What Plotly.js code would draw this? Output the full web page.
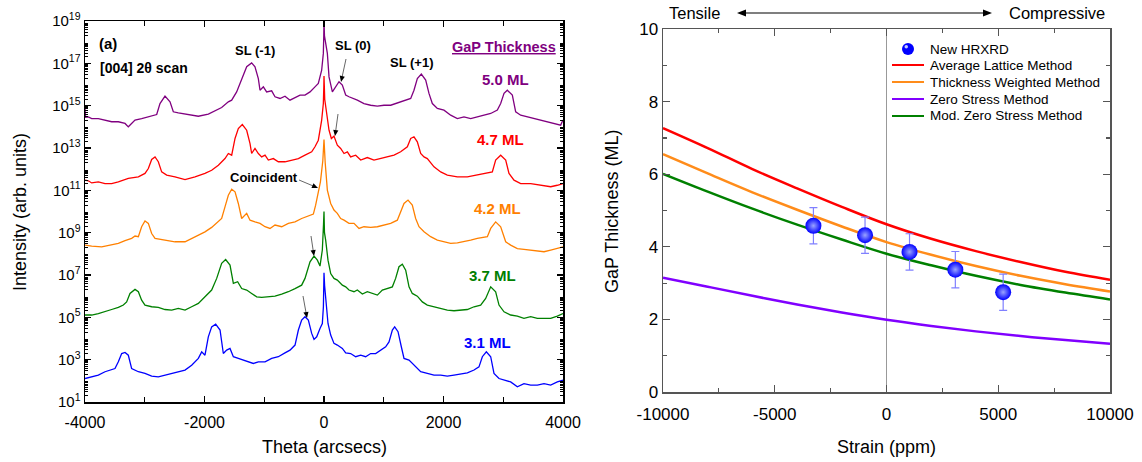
<!DOCTYPE html>
<html>
<head>
<meta charset="utf-8">
<script src="https://cdn.plot.ly/plotly-3.0.1.min.js"></script>
<style>html,body{margin:0;padding:0;background:#fff;}#chart{width:1142px;height:462px;}</style>
</head>
<body>
<div id="chart"></div>
<script>
// ---------- Panel (a): HRXRD scans, theta (arcsec) and log10 intensity ----------
const theta50 = [-4000,-3990,-3944,-3888,-3777,-3665,-3554,-3442,-3330,-3275,-3163,-3052,-2940,-2828,-2800,-2745,-2661,-2577,-2522,-2438,-2326,-2103,-1936,-1768,-1713,-1601,-1545,-1462,-1378,-1294,-1211,-1155,-1099,-1071,-1015,-960,-876,-820,-736,-653,-569,-485,-401,-318,-234,-151,-95,-39,-11,-4,0,8,56,84,140,195,251,307,363,418,502,558,669,781,893,1004,1116,1227,1339,1451,1506,1562,1629,1702,1757,1813,1897,2008,2120,2232,2343,2455,2566,2678,2790,2901,2957,3013,3068,3152,3208,3292,3403,3515,3626,3738,3850,3961,4000];
const logI50 = [14.9,14.45,14.47,14.39,14.39,14.32,14.24,14.24,14.16,14.0,14.32,14.39,14.47,14.55,14.58,15.1,15.45,15.18,14.71,14.66,14.6,14.5,14.6,14.82,14.91,15.18,15.26,15.65,16.28,16.84,17.02,16.84,16.28,15.73,15.89,15.65,15.7,15.42,15.34,15.45,15.26,15.39,15.5,15.5,15.65,15.89,16.05,16.68,17.47,18.3,19.0,18.3,17.47,16.36,15.65,15.89,16.13,15.97,15.5,15.42,15.34,15.26,15.1,15.02,14.98,15.02,15.02,15.13,15.26,15.34,15.73,16.28,16.49,16.21,15.58,15.1,14.87,14.79,14.55,14.39,14.47,14.39,14.47,14.55,14.63,14.79,15.1,15.58,15.73,15.5,14.71,14.55,14.47,14.39,14.32,14.24,14.16,14.08,14.32];

const theta47 = [-4000,-3944,-3888,-3777,-3665,-3554,-3442,-3275,-3107,-2996,-2940,-2884,-2828,-2773,-2717,-2633,-2494,-2326,-2159,-1992,-1880,-1768,-1657,-1601,-1545,-1489,-1434,-1367,-1294,-1238,-1211,-1155,-1099,-1043,-987,-932,-848,-764,-653,-541,-429,-318,-206,-151,-95,-39,-11,-3,0,12,45,84,123,167,223,279,335,391,446,530,614,725,837,948,1060,1172,1283,1395,1451,1506,1562,1618,1674,1729,1841,1953,2064,2232,2399,2566,2734,2817,2873,2957,3041,3096,3180,3292,3459,3626,3794,3905,4000];
const logI47 = [11.48,11.45,11.35,11.40,11.32,11.32,11.40,11.56,11.64,11.80,12.03,12.46,12.58,12.35,11.87,11.72,11.64,11.51,11.64,11.80,11.95,12.19,12.50,12.74,12.66,13.45,13.92,14.11,13.84,13.21,12.74,12.98,12.74,12.58,12.66,12.43,12.50,12.35,12.35,12.43,12.50,12.66,12.82,13.06,13.37,14.32,15.1,15.9,16.4,15.3,14.63,13.84,13.45,13.56,13.13,12.98,12.74,12.82,12.58,12.66,12.43,12.55,12.43,12.50,12.58,12.66,12.82,13.06,13.45,13.53,13.29,12.74,12.58,12.50,12.11,11.87,11.72,11.64,11.64,11.72,11.80,11.87,12.43,12.66,12.43,11.80,11.48,11.32,11.32,11.24,11.17,11.24,11.32];

const theta42 = [-4000,-3888,-3721,-3554,-3442,-3330,-3219,-3163,-3107,-3052,-2996,-2940,-2884,-2828,-2661,-2494,-2326,-2215,-2103,-1992,-1880,-1768,-1713,-1657,-1601,-1545,-1489,-1434,-1378,-1294,-1238,-1155,-1071,-987,-904,-820,-708,-597,-485,-374,-262,-178,-140,-95,-60,-20,0,20,56,112,167,223,279,335,418,502,586,669,781,893,1004,1116,1227,1283,1339,1406,1478,1534,1590,1674,1785,1897,2008,2120,2232,2343,2455,2566,2678,2734,2790,2873,2957,3041,3124,3236,3347,3459,3571,3682,3794,3905,4000];
const logI42 = [8.41,8.36,8.33,8.41,8.49,8.62,8.73,8.84,8.81,9.28,9.55,9.44,8.96,8.73,8.65,8.57,8.57,8.73,8.88,9.04,9.25,9.56,9.67,10.22,10.77,11.05,10.93,10.38,9.67,9.91,9.59,9.51,9.44,9.28,9.20,9.36,9.28,9.44,9.51,9.67,9.78,9.88,10.3,11.0,11.4,12.4,13.4,12.3,11.01,10.38,10.07,9.91,9.67,9.59,9.44,9.44,9.20,9.28,9.25,9.28,9.36,9.44,9.59,9.99,10.38,10.54,10.30,9.67,9.28,9.04,8.81,8.65,8.57,8.49,8.52,8.57,8.65,8.73,8.77,8.81,9.20,9.51,9.28,8.57,8.41,8.25,8.21,8.18,8.14,8.10,8.18,8.25,8.33];

const theta37 = [-4000,-3888,-3777,-3665,-3554,-3442,-3358,-3303,-3247,-3163,-3107,-3052,-2996,-2884,-2773,-2661,-2549,-2438,-2326,-2215,-2103,-1992,-1880,-1796,-1713,-1646,-1573,-1517,-1445,-1378,-1294,-1211,-1127,-1043,-932,-820,-708,-597,-485,-374,-318,-234,-167,-111,-67,-28,-8,0,8,28,67,112,167,223,307,363,418,502,558,642,725,809,893,976,1060,1144,1199,1255,1311,1367,1423,1478,1562,1646,1729,1841,1953,2064,2176,2287,2399,2511,2622,2706,2790,2873,2929,3013,3124,3236,3347,3459,3571,3682,3794,3905,4000];
const logI37 = [5.11,5.11,5.18,5.26,5.37,5.47,5.58,5.73,6.13,6.32,6.21,5.81,5.58,5.50,5.47,5.37,5.34,5.42,5.34,5.50,5.66,5.97,6.29,6.84,7.55,7.73,7.47,6.60,6.68,6.36,6.29,6.13,5.97,5.94,5.97,6.00,6.10,6.21,6.36,6.52,6.84,7.62,7.89,7.70,7.42,8.18,9.4,10.0,9.0,8.65,7.70,7.07,6.84,6.76,6.52,6.44,6.29,6.21,6.29,6.10,6.21,6.13,6.05,6.29,6.36,6.44,6.84,7.39,7.51,7.23,6.44,6.13,6.00,5.73,5.58,5.50,5.42,5.34,5.31,5.34,5.37,5.50,5.58,5.89,6.44,6.21,5.58,5.26,5.11,5.06,4.95,5.03,4.95,4.95,4.95,5.06,5.18];

const theta31 = [-4000,-3888,-3777,-3665,-3554,-3498,-3442,-3386,-3330,-3275,-3219,-3107,-2996,-2884,-2773,-2661,-2549,-2438,-2326,-2215,-2103,-2047,-1992,-1936,-1880,-1813,-1740,-1685,-1629,-1573,-1517,-1434,-1350,-1266,-1183,-1099,-987,-876,-764,-653,-569,-485,-429,-374,-318,-262,-206,-167,-122,-67,-28,-10,0,10,28,67,112,167,223,307,363,446,530,614,697,781,865,948,1032,1088,1144,1183,1239,1294,1339,1423,1506,1618,1729,1841,1953,2064,2176,2287,2399,2511,2594,2650,2717,2790,2845,2929,3013,3124,3236,3347,3459,3571,3682,3794,3905,4000];
const logI31 = [2.11,2.19,2.27,2.43,2.51,2.58,2.90,3.29,3.34,3.21,2.58,2.43,2.35,2.22,2.19,2.27,2.35,2.43,2.51,2.74,3.06,3.37,3.21,4.08,4.55,4.68,4.40,3.29,3.45,3.53,3.14,3.06,2.98,2.90,2.82,2.90,2.90,3.06,3.14,3.32,3.45,3.69,4.40,4.87,5.03,4.87,4.24,3.96,4.08,4.47,4.71,5.5,7.1,6.5,5.81,4.71,4.16,3.77,3.69,3.53,3.32,3.29,3.14,3.21,3.14,3.29,3.29,3.45,3.61,3.84,4.40,4.55,4.32,3.61,3.06,2.98,2.74,2.43,2.35,2.27,2.27,2.22,2.27,2.32,2.38,2.51,2.66,3.14,3.37,3.14,2.35,2.11,2.03,1.95,1.72,1.87,1.80,1.80,1.87,1.80,1.95,2.03];

const xTickVals = [-4000,-2000,0,2000,4000];
const xTickText = ['-4000','-2000','0','2000','4000'];
const yLabelExps = [1,3,5,7,9,11,13,15,17,19];
const yPlainExps = [2,4,6,8,10,12,14,16,18];

// ---------- Panel (b): GaP thickness vs strain ----------
const strain = [-10000,-8000,-6000,-4000,-2000,0,2000,4000,6000,8000,10000];
const avgLattice = [7.27,6.72,6.14,5.61,5.10,4.62,4.22,3.88,3.58,3.31,3.09];
const thickWeighted = [6.55,6.02,5.50,5.02,4.56,4.13,3.78,3.47,3.20,2.97,2.77];
const zeroStress = [3.15,2.90,2.65,2.41,2.19,1.99,1.82,1.67,1.54,1.43,1.33];
const modZeroStress = [6.01,5.52,5.05,4.61,4.20,3.81,3.49,3.20,2.95,2.74,2.55];
const hrxrdStrain = [-3270,-960,1030,3080,5220];
const hrxrdThick = [4.58,4.32,3.86,3.37,2.75];
const hrxrdErr = [0.5,0.5,0.5,0.5,0.5];
const x2TickVals = [-10000,-5000,0,5000,10000];
const x2TickText = ['-10000','-5000','0','5000','10000'];
const legendNames = ['New HRXRD','Average Lattice Method','Thickness Weighted Method','Zero Stress Method','Mod. Zero Stress Method'];
const lineColors = ['#ff0000','#ff8c1a','#8000ff','#008000'];

const FONT = 'Arial, "Liberation Sans", sans-serif';
const W = 1142, H = 462;
const px = v => v / W, py = v => 1 - v / H;
const pow10 = a => a.map(v => Math.pow(10, v));

const xrd = [
  [theta31, logI31, '#0000ff'],
  [theta37, logI37, '#008000'],
  [theta42, logI42, '#ff8000'],
  [theta47, logI47, '#ff0000'],
  [theta50, logI50, '#800080']
];
const traces = xrd.map(([t, l, c]) => ({
  x: t, y: pow10(l), type: 'scatter', mode: 'lines', xaxis: 'x', yaxis: 'y',
  line: {color: c, width: 1.3}, showlegend: false, hoverinfo: 'skip'
}));
[avgLattice, thickWeighted, zeroStress, modZeroStress].forEach((v, i) => traces.push({
  x: strain, y: v, type: 'scatter', mode: 'lines', xaxis: 'x2', yaxis: 'y2', showlegend: false,
  line: {color: lineColors[i], width: 2.5, shape: 'spline'}
}));
traces.push({
  x: hrxrdStrain, y: hrxrdThick, type: 'scatter', mode: 'markers', xaxis: 'x2', yaxis: 'y2', showlegend: false,
  marker: {size: 16, color: '#0000ff', gradient: {type: 'radial', color: '#9aa4ff'}, line: {width: 0}},
  error_y: {type: 'data', array: hrxrdErr, visible: true, color: '#8080ff', thickness: 1.2, width: 4}
});

// log-axis tick positions
const yMinor = [];
for (let e = 1; e < 19; e++) for (let m = 2; m <= 9; m++) yMinor.push(m * Math.pow(10, e));

const ann = [];
const shapes = [];
function txt(t, x, y, size, color, opts) {
  ann.push(Object.assign({text: t, x: px(x), y: py(y), xref: 'paper', yref: 'paper',
    xanchor: 'center', yanchor: 'middle', showarrow: false,
    font: {family: FONT, size: size, color: color || '#000'}}, opts || {}));
}
function tri(x1, y1, ux, uy, len, hw, color) {
  const bx = x1 - ux * len, by = y1 - uy * len, qx = -uy * hw, qy = ux * hw;
  shapes.push({type: 'path', xref: 'paper', yref: 'paper', fillcolor: color, line: {width: 0},
    path: `M${px(x1)},${py(y1)} L${px(bx + qx)},${py(by + qy)} L${px(bx - qx)},${py(by - qy)} Z`});
}
function arrow(x0, y0, x1, y1, o) {
  o = Object.assign({len: 6, hw: 2.6, lc: '#555', lw: 0.9, hc: '#000', both: false}, o || {});
  const d = Math.hypot(x1 - x0, y1 - y0), ux = (x1 - x0) / d, uy = (y1 - y0) / d;
  const sx = o.both ? x0 + ux * o.len * 0.8 : x0, sy = o.both ? y0 + uy * o.len * 0.8 : y0;
  shapes.push({type: 'line', xref: 'paper', yref: 'paper', x0: px(sx), y0: py(sy),
    x1: px(x1 - ux * o.len * 0.8), y1: py(y1 - uy * o.len * 0.8), line: {color: o.lc, width: o.lw}});
  tri(x1, y1, ux, uy, o.len, o.hw, o.hc);
  if (o.both) tri(x0, y0, -ux, -uy, o.len, o.hw, o.hc);
}
// panel (a) labels
txt('<b>(a)</b>', 108, 43, 15);
txt('<b>[004] 2θ scan</b>', 98, 68, 14, '#000', {xanchor: 'left'});
txt('<b>SL (-1)</b>', 255, 51, 13);
txt('<b>SL (0)</b>', 353, 46, 13);
txt('<b>SL (+1)</b>', 411, 63, 13);
txt('<b>Coincident</b>', 264, 177, 13);
ann.push({text: '<b>GaP Thickness</b>', x: px(504), y: py(47), xref: 'paper', yref: 'paper', showarrow: false,
  xanchor: 'center', yanchor: 'middle',
  font: {family: FONT, size: 14.5, color: '#800080', lineposition: 'under'}});
txt('<b>5.0 ML</b>', 505, 79, 15, '#800080');
txt('<b>4.7 ML</b>', 500, 139, 15, '#ff0000');
txt('<b>4.2 ML</b>', 497, 208, 15, '#ff8000');
txt('<b>3.7 ML</b>', 492, 275, 15, '#008000');
txt('<b>3.1 ML</b>', 487, 342, 15, '#0000ff');
arrow(346, 59, 341, 82);
arrow(338, 114, 335, 136);
arrow(299, 180, 318, 188);
arrow(311, 236, 314, 256);
arrow(303, 296, 307, 318);
// axis titles
txt('Intensity (arb. units)', 20, 212, 18, '#000', {textangle: -90});
txt('Theta (arcsecs)', 324, 447, 18);
txt('GaP Thickness (ML)', 612, 212, 18, '#000', {textangle: -90});
txt('Strain (ppm)', 886, 447, 18);
// panel (b) top
txt('Tensile', 694, 13, 16.5);
txt('Compressive', 1057, 13, 16.5);
arrow(737, 13, 992, 13, {both: true, len: 9, hw: 3.5, lc: '#000', lw: 1.2, hc: '#000'});
// manual legend of panel (b)
const legY = [49, 65, 82, 99, 116];
shapes.push({type: 'circle', xref: 'paper', yref: 'paper', x0: px(902), x1: px(914), y0: py(55), y1: py(43),
  fillcolor: '#0000ff', line: {width: 0}});
shapes.push({type: 'circle', xref: 'paper', yref: 'paper', x0: px(904.5), x1: px(908), y0: py(48.5), y1: py(45),
  fillcolor: '#c8ccff', line: {width: 0}});
lineColors.forEach((c, i) => shapes.push({type: 'line', xref: 'paper', yref: 'paper',
  x0: px(892), x1: px(924), y0: py(legY[i + 1]), y1: py(legY[i + 1]), line: {color: c, width: 2}}));
legendNames.forEach((n, i) => txt(n, 928, legY[i], 13.5, '#000', {xanchor: 'left'}));
// zero-strain guide line
shapes.push({type: 'line', xref: 'x2', yref: 'y2', x0: 0, x1: 0, y0: 0, y1: 10, layer: 'below',
  line: {color: '#999', width: 1}});

const axBase = {showgrid: false, zeroline: false, showline: true, mirror: 'ticks', ticks: 'inside',
  tickfont: {family: FONT, size: 16, color: '#000'}, tickcolor: '#000', ticklen: 6, tickwidth: 1.2};

const layout = {
  width: W, height: H, margin: {l: 0, r: 0, t: 0, b: 0}, paper_bgcolor: '#fff', plot_bgcolor: '#fff',
  font: {family: FONT, color: '#000'}, showlegend: false,
  xaxis: Object.assign({}, axBase, {domain: [px(85), px(563)], range: [-4000, 4000], anchor: 'y',
    tickmode: 'array', tickvals: xTickVals, ticktext: xTickText, linecolor: '#000', linewidth: 1.5,
    ticklabelstandoff: 5,
    minor: {tickmode: 'array', tickvals: [-3000, -1000, 1000, 3000], ticks: 'inside', ticklen: 5, tickcolor: '#000', tickwidth: 1.2}}),
  yaxis: Object.assign({}, axBase, {type: 'log', domain: [1 - 402 / H, 1 - 21 / H], range: [1, 19], anchor: 'x',
    tickmode: 'array', tickvals: yLabelExps.map(e => Math.pow(10, e)),
    ticktext: yLabelExps.map(e => '10<sup>' + e + '</sup>'), linecolor: '#000', linewidth: 1.5, ticklen: 6,
    tickfont: {family: FONT, size: 15, color: '#000'},
    minor: {tickmode: 'array', tickvals: yMinor, ticks: 'inside', ticklen: 3, tickcolor: '#000', tickwidth: 1}}),
  yaxis3: {type: 'log', overlaying: 'y', anchor: 'x', side: 'left', range: [1, 19], showgrid: false, zeroline: false,
    showline: false, mirror: 'ticks', ticks: 'inside', ticklen: 6, tickwidth: 1.2, tickcolor: '#000',
    showticklabels: false, tickmode: 'array', tickvals: yPlainExps.map(e => Math.pow(10, e))},
  xaxis2: Object.assign({}, axBase, {domain: [px(663), px(1110)], range: [-10000, 10000], anchor: 'y2',
    tickmode: 'array', tickvals: x2TickVals, ticktext: x2TickText, linecolor: '#555', linewidth: 1.5, tickcolor: '#555',
    ticklen: 7, ticklabelstandoff: 6, tickfont: {family: FONT, size: 17, color: '#000'},
    minor: {tickmode: 'array', tickvals: [-7500, -2500, 2500, 7500], ticks: 'inside', ticklen: 4, tickcolor: '#555', tickwidth: 1.2}}),
  yaxis2: Object.assign({}, axBase, {domain: [1 - 392 / H, 1 - 29 / H], range: [0, 10], anchor: 'x2',
    dtick: 2, linecolor: '#555', linewidth: 1.5, tickcolor: '#555', ticklen: 7,
    tickfont: {family: FONT, size: 17, color: '#000'},
    minor: {dtick: 1, ticks: 'inside', ticklen: 4, tickcolor: '#555', tickwidth: 1.2}}),
  shapes: shapes,
  annotations: ann
};

Plotly.newPlot('chart', traces, layout, {staticPlot: true, displayModeBar: false});
</script>
</body>
</html>
